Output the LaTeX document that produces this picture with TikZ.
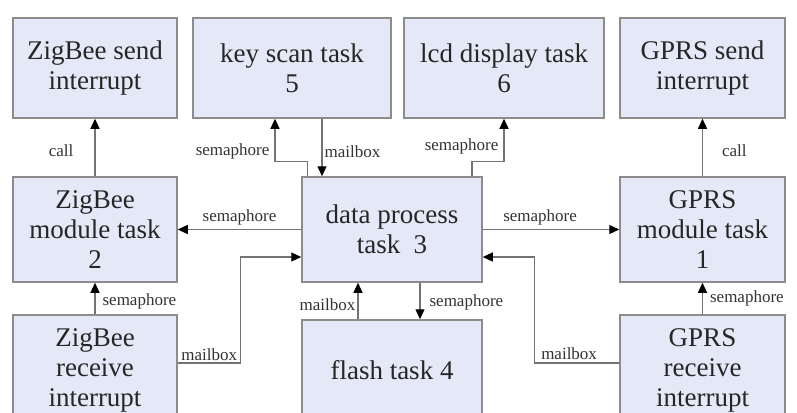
\documentclass[tikz,border=0pt]{standalone}
\usepackage{fontspec}
\setmainfont{Liberation Serif}
\usetikzlibrary{arrows.meta}
\definecolor{boxfill}{RGB}{229,233,247}
\definecolor{boxline}{RGB}{140,140,140}
\definecolor{linegray}{RGB}{115,115,115}
\tikzset{
	box/.style={draw=boxline, line width=1.5pt, fill=boxfill, inner sep=0pt, align=center,
		font=\fontsize{27}{30}\selectfont, text=black!85},
	arr/.style={draw=linegray, line width=1.2pt, -{Triangle[length=10pt,width=9pt,color=black]}},
	lbl/.style={font=\fontsize{17}{17}\selectfont, text=black!80, inner sep=1pt}
}
\begin{document}
\begin{tikzpicture}[x=1pt,y=-1pt]
		\useasboundingbox (0,0) rectangle (797,412);
		\clip (0,0) rectangle (797,412);
		\fill[white] (0,0) rectangle (797,412);
		\node[box, minimum width=164, minimum height=100] (zsend) at (95,68) {ZigBee send\\interrupt};
		\node[box, minimum width=198, minimum height=100] (keyscan) at (292,68) {key scan task\\5};
		\node[box, minimum width=200, minimum height=100] (lcd) at (504,68) {lcd display task\\6};
		\node[box, minimum width=165, minimum height=100] (gsend) at (702.5,68) {GPRS send\\interrupt};
		\node[box, minimum width=164, minimum height=105] (zmod) at (95,229.5) {ZigBee\\module task\\2};
		\node[box, minimum width=180, minimum height=105] (data) at (392,229.5) {data process\\task\ \ 3};
		\node[box, minimum width=165, minimum height=105] (gmod) at (702.5,229.5) {GPRS\\module task\\1};
		\node[box, minimum width=164, minimum height=110] (zrecv) at (95,370) {ZigBee\\receive\\interrupt};
		\node[box, minimum width=180, minimum height=100] (flash) at (392,370) {flash task 4};
		\node[box, minimum width=165, minimum height=110] (grecv) at (702.5,370) {GPRS\\receive\\interrupt};
		\draw[arr] (zmod.north) -- node[lbl, left=20pt, pos=0.45] {call} (zsend.south);
		\draw[arr] (gmod.north) -- node[lbl, right=18pt, pos=0.45] {call} (gsend.south);
		\draw[arr] ([xshift=6pt]data.north west) -- ++(0,-15) -| node[lbl, left=4pt, pos=0.61] {semaphore} ([xshift=-17pt]keyscan.south);
		\draw[arr] ([xshift=30pt]keyscan.south) -- node[lbl, right=1pt, pos=0.58] {mailbox} ([xshift=-70pt]data.north);
		\draw[arr] ([xshift=80pt]data.north) -- ++(0,-15) -| node[lbl, left=4pt, pos=0.67] {semaphore} (lcd.south);
		\draw[arr] (data.west) -- node[lbl, above=3pt] {semaphore} (zmod.east);
		\draw[arr] (data.east) -- node[lbl, above=3pt, pos=0.42] {semaphore} (gmod.west);
		\draw[arr] ([yshift=7pt]zrecv.east) -- node[lbl, above=1pt] {mailbox} ++(63,0) |- ([yshift=-27.5pt]data.west);
		\draw[arr] ([yshift=7pt]grecv.west) -- node[lbl, above=2pt, pos=0.59] {mailbox} ++(-85,0) |- ([yshift=-27.5pt]data.east);
		\draw[arr] (zrecv.north) -- node[lbl, right=6pt, pos=0.4] {semaphore} (zmod.south);
		\draw[arr] (grecv.north) -- node[lbl, right=6pt, pos=0.5] {semaphore} (gmod.south);
		\draw[arr] ([xshift=-34pt]flash.north) -- node[lbl, left=1pt, pos=0.4] {mailbox} ([xshift=-34pt]data.south);
		\draw[arr] ([xshift=28pt]data.south) -- node[lbl, right=8pt, pos=0.53] {semaphore} ([xshift=28pt]flash.north);
	\end{tikzpicture}
\end{document}
